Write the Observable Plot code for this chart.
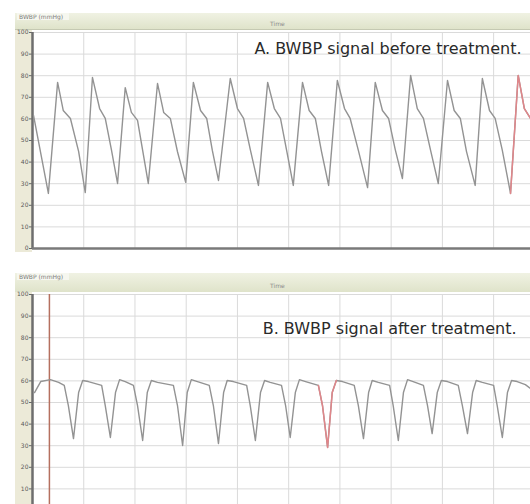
<!DOCTYPE html>
<html><head><meta charset="utf-8">
<script src="https://cdn.jsdelivr.net/npm/d3@7"></script>
<script src="https://cdn.jsdelivr.net/npm/@observablehq/plot@0.6"></script>
<style>
html,body{margin:0;padding:0;background:#fff;}
body{width:530px;height:504px;overflow:hidden;position:relative;font-family:"DejaVu Sans",sans-serif;}
.hdr{position:absolute;left:15px;width:515px;background:linear-gradient(#f0f2e3,#dfe3ca);border-bottom:1px solid #c5c9b2;box-sizing:border-box;}
.tab{position:absolute;left:2px;top:0px;font-size:6px;line-height:7px;color:#7d7d7d;background:#f6f7ef;padding:0 6px 0 2px;}
.ctr{position:absolute;left:255px;font-size:6px;line-height:7px;color:#8a8a8a;}
.panel{position:absolute;left:0;}
</style></head><body>
<div class="hdr" style="top:13px;height:17px"><span class="tab">BWBP (mmHg)</span><span class="ctr" style="top:7px">Time</span></div>
<div class="panel" id="pA" style="top:30px"></div>
<div class="hdr" style="top:273px;height:20px"><span class="tab">BWBP (mmHg)</span><span class="ctr" style="top:9px">Time</span></div>
<div class="panel" id="pB" style="top:292px"></div>
<script>
// x in seconds, y in signal units
const xTicks = [1, 2, 3, 4, 5, 6, 7, 8, 9];
const yTicks = [0, 10, 20, 30, 40, 50, 60, 70, 80, 90, 100];
const yLabelsA = [0, 10, 20, 30, 40, 50, 60, 70, 80, 90, 100];
const yLabelsB = [10, 20, 30, 40, 50, 60, 70, 80, 90, 100];
const titleA = "A. BWBP signal before treatment.";
const titleB = "B. BWBP signal after treatment.";

// Panel A: before treatment
const timeA = [0.02, 0.31,
 0.49, 0.60, 0.74, 0.90, 1.03,
 1.17, 1.31, 1.42, 1.54, 1.66,
 1.81, 1.93, 2.05, 2.15, 2.26,
 2.44, 2.56, 2.69, 2.83, 2.99,
 3.14, 3.28, 3.40, 3.51, 3.63,
 3.86, 4.00, 4.12, 4.25, 4.41,
 4.59, 4.72, 4.84, 4.96, 5.09,
 5.27, 5.40, 5.52, 5.64, 5.78,
 5.95, 6.09, 6.20, 6.36, 6.54,
 6.69, 6.83, 6.95, 7.08, 7.22,
 7.38, 7.51, 7.63, 7.77, 7.92,
 8.10, 8.23, 8.35, 8.47, 8.64,
 8.78, 8.92, 9.03, 9.17, 9.33,
 9.48, 9.60, 9.72];
const valueA = [61.6, 25.5,
 76.9, 63.9, 60.2, 45.0, 25.9,
 79.2, 64.8, 60.2, 45.8, 30.1,
 74.5, 63.0, 59.3, 45.4, 30.1,
 76.4, 63.0, 60.2, 44.8, 30.6,
 76.9, 63.9, 60.2, 45.4, 31.5,
 78.7, 64.8, 60.2, 45.9, 29.2,
 76.9, 64.8, 60.2, 45.4, 29.2,
 76.9, 63.9, 60.2, 45.0, 29.2,
 77.8, 64.8, 60.2, 45.4, 28.2,
 76.9, 63.9, 60.2, 45.8, 32.4,
 80.1, 64.8, 60.2, 45.4, 30.1,
 77.8, 63.9, 60.2, 45.0, 29.2,
 78.7, 63.9, 60.2, 45.4, 25.5,
 80.1, 64.8, 60.2];
const sweepTimeA = [9.33, 9.48, 9.60, 9.72];
const sweepValueA = [25.5, 80.1, 64.8, 60.2];

// Panel B: after treatment
const timeB = [0.04, 0.16, 0.35, 0.51, 0.62, 0.70, 0.80,
 0.90, 0.98, 1.09, 1.35, 1.42, 1.52,
 1.62, 1.70, 1.81, 1.97, 2.05, 2.15,
 2.24, 2.32, 2.44, 2.75, 2.83, 2.93,
 3.02, 3.10, 3.22, 3.45, 3.53, 3.63,
 3.73, 3.80, 3.92, 4.18, 4.25, 4.35,
 4.45, 4.53, 4.64, 4.86, 4.94, 5.03,
 5.13, 5.21, 5.33, 5.58, 5.66, 5.76,
 5.85, 5.93, 6.05, 6.28, 6.36, 6.46,
 6.56, 6.63, 6.75, 6.97, 7.04, 7.14,
 7.24, 7.32, 7.43, 7.63, 7.71, 7.80,
 7.90, 7.98, 8.10, 8.31, 8.39, 8.49,
 8.59, 8.66, 8.78, 9.00, 9.07, 9.17,
 9.27, 9.35, 9.46, 9.62, 9.72];
const valueB = [54.6, 59.7, 60.6, 59.3, 57.9, 48.6, 33.3,
 54.6, 60.2, 59.7, 57.9, 48.6, 33.8,
 54.6, 60.6, 59.7, 57.9, 48.6, 32.4,
 54.6, 60.2, 59.3, 57.9, 48.6, 30.1,
 54.6, 60.6, 59.7, 57.9, 48.6, 31.0,
 54.6, 60.2, 59.7, 57.9, 48.6, 32.4,
 54.6, 60.2, 59.3, 57.9, 48.6, 33.8,
 54.6, 60.6, 59.7, 57.9, 48.6, 29.2,
 54.6, 60.2, 59.7, 57.9, 48.6, 33.3,
 54.6, 60.2, 59.3, 57.9, 48.6, 32.4,
 54.6, 60.6, 59.7, 57.9, 48.6, 35.6,
 54.6, 60.2, 59.7, 57.9, 48.6, 35.6,
 54.6, 60.2, 59.3, 57.9, 48.6, 33.8,
 54.6, 60.2, 59.7, 58.3, 56.5];
const sweepTimeB = [5.58, 5.66, 5.76, 5.85, 5.93];
const sweepValueB = [57.9, 48.6, 29.2, 54.6, 60.2];
const cursorB = [0.33];

const rows = (ts, vs) => ts.map((t, i) => ({t, v: vs[i]}));

function panel(main, sweep, title, labels, dy, dx, extra) {
  return Plot.plot({
    width: 530, height: 222,
    marginLeft: 32, marginRight: 0, marginTop: 2, marginBottom: 4,
    style: {background: "linear-gradient(to right, #fff 0 15px, #ecead8 15px 32px, #fff 32px)", fontFamily: "DejaVu Sans, sans-serif", overflow: "visible"},
    x: {domain: [0, 9.72], axis: null},
    y: {domain: [0, 100], axis: null},
    marks: [
      Plot.gridX(xTicks, {stroke: "#dadada", strokeOpacity: 1}),
      Plot.gridY(yTicks, {stroke: "#dadada", strokeOpacity: 1}),
      Plot.axisY(labels, {tickSize: 3, tickPadding: 1, fontSize: 6, fill: "#5a5a5a", stroke: "#666", label: null}),
      ...extra,
      Plot.ruleX([0], {stroke: "#6e6e6e", strokeWidth: 2.5}),
      Plot.ruleY([0], {stroke: "#7a7a7a", strokeWidth: 2.5}),
      Plot.line(main, {x: "t", y: "v", stroke: "#939393", strokeWidth: 1.4}),
      Plot.line(sweep, {x: "t", y: "v", stroke: "#e0868a", strokeWidth: 1.5}),
      Plot.text([title], {frameAnchor: "top-right", lineAnchor: "top", textAnchor: "end", dx, dy, fontSize: 16, fill: "#2a2a2a"})
    ]
  });
}

document.getElementById("pA").append(panel(rows(timeA, valueA), rows(sweepTimeA, sweepValueA), titleA, yLabelsA, 10, -9, []));
document.getElementById("pB").append(panel(rows(timeB, valueB), rows(sweepTimeB, sweepValueB), titleB, yLabelsB, 28, -14,
  [Plot.ruleX(cursorB, {stroke: "#b5705f", strokeWidth: 1.5})]));
</script>
</body></html>
